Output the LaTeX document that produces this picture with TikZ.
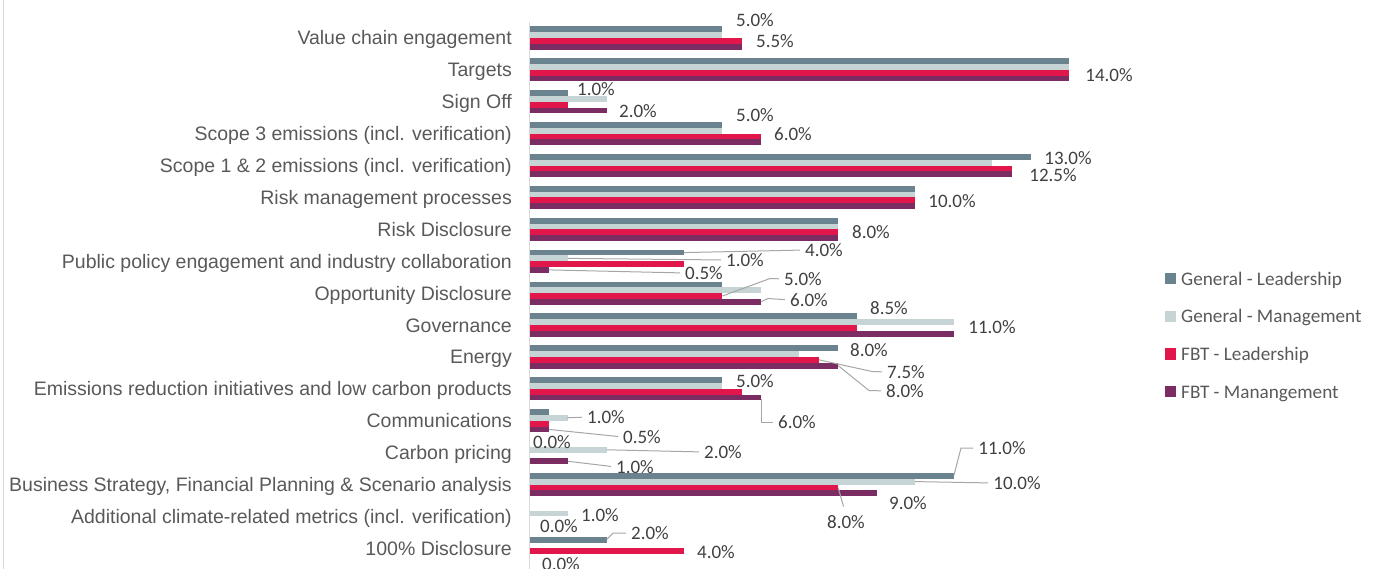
\documentclass[tikz,border=0pt]{standalone}
\usepackage{fontspec}
\setmainfont{Liberation Sans}
\newfontfamily\valfont{Carlito}
\definecolor{cgl}{RGB}{106,131,143}
\definecolor{cgm}{RGB}{198,212,214}
\definecolor{cfl}{RGB}{225,22,75}
\definecolor{cfm}{RGB}{123,44,98}
\definecolor{labgray}{RGB}{89,89,89}
\definecolor{valgray}{RGB}{64,64,64}
\definecolor{leadgray}{RGB}{166,166,166}
\definecolor{axgray}{RGB}{217,217,217}
\newcommand{\onebar}[4]{\ifdim #2pt>0pt \fill[#4] (530,#3) rectangle ({529.5+38.57*#2},{#3+5.8});\fi}
\begin{document}
\begin{tikzpicture}[x=1pt,y=-1pt,
  cat/.style={anchor=base east, font=\fontsize{19.5}{22}\selectfont, text=labgray, inner sep=0pt},
  val/.style={anchor=center, font=\valfont\fontsize{19}{22}\selectfont, text=valgray, inner sep=0pt},
  legtxt/.style={anchor=base west, font=\valfont\fontsize{19.2}{22}\selectfont, text=labgray, inner sep=0pt},
  legsq/.style={minimum size=11pt, inner sep=0pt, draw=none},
  leader/.style={draw=leadgray, line width=1pt, shorten >=5pt}]
\useasboundingbox (0,0) rectangle (1379,569);
% left frame line
\draw[axgray, line width=1pt] (3.5,0) -- (3.5,569);
% bars
\foreach \i/\va/\vb/\vc/\vd in {0/5/5/5.5/5.5, 1/14/14/14/14, 2/1/2/1/2, 3/5/5/6/6,
  4/13/12/12.5/12.5, 5/10/10/10/10, 6/8/8/8/8, 7/4/1/4/0.5, 8/5/6/5/6,
  9/8.5/11/8.5/11, 10/8/7/7.5/8, 11/5/5/5.5/6, 12/0.5/1/0.5/0.5, 13/0/2/0/1,
  14/11/10/8/9, 15/0/1/0/0, 16/2/0/4/0}{
  \pgfmathsetmacro{\tp}{22+\i*31.9+4.35}
  \pgfmathsetmacro{\tpb}{\tp+5.8}
  \pgfmathsetmacro{\tpc}{\tp+11.6}
  \pgfmathsetmacro{\tpd}{\tp+17.4}
  \onebar{a}{\va}{\tp}{cgl}
  \onebar{b}{\vb}{\tpb}{cgm}
  \onebar{c}{\vc}{\tpc}{cfl}
  \onebar{d}{\vd}{\tpd}{cfm}
}
% axis
\draw[axgray, line width=1pt] (529.5,22) -- (529.5,569);
% category labels
\foreach \i/\txt in {0/Value chain engagement, 1/Targets, 2/Sign Off,
  3/Scope 3 emissions (incl. verification), 4/Scope 1 \& 2 emissions (incl. verification),
  5/Risk management processes, 6/Risk Disclosure,
  7/Public policy engagement and industry collaboration, 8/Opportunity Disclosure,
  9/Governance, 10/Energy, 11/Emissions reduction initiatives and low carbon products,
  12/Communications, 13/Carbon pricing,
  14/{Business Strategy, Financial Planning \& Scenario analysis},
  15/Additional climate-related metrics (incl. verification), 16/100\% Disclosure}{
  \node[cat] (cat\i) at (512,{22+\i*31.9+15.95+7}) {\txt};
}
% value labels
\node[val] (l0a) at (755,20) {5.0\%};
\node[val] (l0c) at (775,41) {5.5\%};
\node[val] (l1c) at (1109,75) {14.0\%};
\node[val] (l2a) at (596,89) {1.0\%};
\node[val] (l2d) at (638,111) {2.0\%};
\node[val] (l3a) at (755,115) {5.0\%};
\node[val] (l3c) at (793,134) {6.0\%};
\node[val] (l4a) at (1068,158) {13.0\%};
\node[val] (l4c) at (1053,175) {12.5\%};
\node[val] (l5c) at (952,201) {10.0\%};
\node[val] (l6c) at (871,232) {8.0\%};
\node[val] (l7a) at (824,250) {4.0\%};
\node[val] (l7b) at (745,260) {1.0\%};
\node[val] (l7d) at (704,273) {0.5\%};
\node[val] (l8c) at (803,279) {5.0\%};
\node[val] (l8d) at (809,300) {6.0\%};
\node[val] (l9a) at (889,308) {8.5\%};
\node[val] (l9d) at (992,327) {11.0\%};
\node[val] (l10a) at (869,350) {8.0\%};
\node[val] (l10c) at (906,372) {7.5\%};
\node[val] (l10d) at (905,391) {8.0\%};
\node[val] (l11a) at (755,381) {5.0\%};
\node[val] (l11d) at (797,422) {6.0\%};
\node[val] (l12b) at (606,417) {1.0\%};
\node[val] (l12d) at (642,437) {0.5\%};
\node[val] (l12x) at (552,442) {0.0\%};
\node[val] (l13b) at (723,452) {2.0\%};
\node[val] (l13d) at (635,467) {1.0\%};
\node[val] (l14a) at (1002,448) {11.0\%};
\node[val] (l14b) at (1017,483) {10.0\%};
\node[val] (l14d) at (908,503) {9.0\%};
\node[val] (l14c) at (846,522) {8.0\%};
\node[val] (l15b) at (600,515) {1.0\%};
\node[val] (l15x) at (559,526) {0.0\%};
\node[val] (l16a) at (650,533) {2.0\%};
\node[val] (l16c) at (716,552) {4.0\%};
\node[val] (l16x) at (561,564) {0.0\%};
% bar end coordinates and bends
\coordinate (b7a) at (683.8,252.6);
\coordinate (b7b) at (568.1,258.4);
\coordinate (b7d) at (548.8,269.9);
\coordinate (b8c) at (722.4,296.0);
\coordinate (k8c) at (770,278.5);
\coordinate (b8d) at (760.9,301.8);
\coordinate (k8d) at (768,298.5);
\coordinate (b10c) at (818.8,359.8);
\coordinate (k10c) at (872,371.5);
\coordinate (b10d) at (838.1,365.6);
\coordinate (k10d) at (869,390.5);
\coordinate (b11d) at (761,399);
\coordinate (k11d) at (761,422);
\coordinate (b12b) at (567.1,417.8);
\coordinate (b12d) at (548.8,429.4);
\coordinate (b13b) at (606.6,449.8);
\coordinate (b13d) at (568.1,461.3);
\coordinate (b14a) at (953.8,475.8);
\coordinate (k14a) at (961,448);
\coordinate (b14b) at (915.2,481.6);
\coordinate (b14c) at (838.1,487.4);
\coordinate (b16a) at (606.6,539.6);
\coordinate (k16a) at (613,533);
% leader lines
\draw[leader] (b7a) -- (l7a.west);
\draw[leader] (b7b) -- (l7b.west);
\draw[leader] (b7d) -- (l7d.west);
\draw[leader] (b8c) -- (k8c) -- (l8c.west);
\draw[leader] (b8d) -- (k8d) -- (l8d.west);
\draw[leader] (b10c) -- (k10c) -- (l10c.west);
\draw[leader] (b10d) -- (k10d) -- (l10d.west);
\draw[leader] (b11d) -- (k11d) -- (l11d.west);
\draw[leader] (b12b) -- (l12b.west);
\draw[leader] (b12d) -- (l12d.west);
\draw[leader] (b13b) -- (l13b.west);
\draw[leader] (b13d) -- (l13d.west);
\draw[leader] (b14a) -- (k14a) -- (l14a.west);
\draw[leader] (b14b) -- (l14b.west);
\draw[leader, shorten >=9pt] (b14c) -- (l14c.north);
\draw[leader] (b16a) -- (k16a) -- (l16a.west);
% legend
\node[legsq, fill=cgl] (sq1) at (1170.5,279) {};
\node[legsq, fill=cgm] (sq2) at (1170.5,316.5) {};
\node[legsq, fill=cfl] (sq3) at (1170.5,354) {};
\node[legsq, fill=cfm] (sq4) at (1170.5,391.5) {};
\node[legtxt] (lg1) at (1181,285.5) {General - Leadership};
\node[legtxt] (lg2) at (1181,323) {General - Management};
\node[legtxt] (lg3) at (1181,360.5) {FBT - Leadership};
\node[legtxt] (lg4) at (1181,398) {FBT - Manangement};
\end{tikzpicture}
\end{document}
